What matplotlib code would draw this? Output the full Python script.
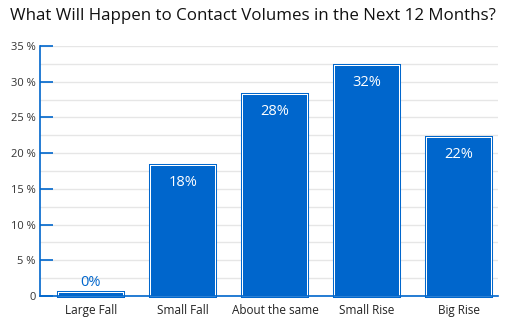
import numpy as np
import matplotlib.pyplot as plt
import matplotlib.patheffects as pe

# Survey answers and share of respondents (%)
categories = ['Large Fall', 'Small Fall', 'About the same', 'Small Rise', 'Big Rise']
shares = [0.4, 18.2, 28.2, 32.2, 22.1]
labels = ['0%', '18%', '28%', '32%', '22%']
y_ticks = [0, 5, 10, 15, 20, 25, 30, 35]

blue = '#0066CC'
plt.rcParams['font.family'] = ['Open Sans', 'DejaVu Sans']

fig = plt.figure(figsize=(5.1, 3.25), dpi=100)
ax = fig.add_axes([40/510, 1 - 296/325, 458/510, 250/325])

x = np.arange(len(categories))
bars = ax.bar(x, shares, width=0.70, color=blue, linewidth=0, zorder=3)
# double outline: thin white gap then blue line
for b in bars:
    b.set_path_effects([pe.Stroke(linewidth=2.9, foreground=blue),
                        pe.Stroke(linewidth=1.45, foreground='white'),
                        pe.Normal()])
    b.set_clip_on(False)

for xi, v, lab in zip(x, shares, labels):
    if v < 3:
        ax.text(xi, v + 0.5, lab, ha='center', va='bottom', color=blue, fontsize=10.5)
    else:
        ax.text(xi, v - 2.3, lab, ha='center', va='center', color='white', fontsize=10.5)

ax.set_xlim(-0.554, 4.424)
ax.set_ylim(0, 35)
ax.set_yticks(y_ticks)
ax.set_yticklabels([('%d %%' % t) if t else '0' for t in y_ticks])
ax.set_yticks(np.arange(2.5, 35, 5), minor=True)
ax.set_xticks(x)
ax.set_xticklabels(categories)
ax.tick_params(axis='y', which='major', direction='in', length=9, width=1.2,
               color=blue, labelsize=8, labelcolor='#333333', pad=3)
ax.tick_params(axis='y', which='minor', length=0)
ax.tick_params(axis='x', length=0, labelsize=8.5, labelcolor='#222222', pad=6)
ax.grid(axis='y', which='both', color='#e6e6e6', linewidth=1, zorder=0)
ax.set_axisbelow(True)

for s in ['top', 'right']:
    ax.spines[s].set_visible(False)
for s in ['left', 'bottom']:
    ax.spines[s].set_color(blue)
    ax.spines[s].set_linewidth(1.2)
    ax.spines[s].set_zorder(4)

fig.text(253/510, 1 - 16/325, 'What Will Happen to Contact Volumes in the Next 12 Months?',
         ha='center', va='center', fontsize=12.2, color='#111111')

fig.savefig('out.png', dpi=100)
